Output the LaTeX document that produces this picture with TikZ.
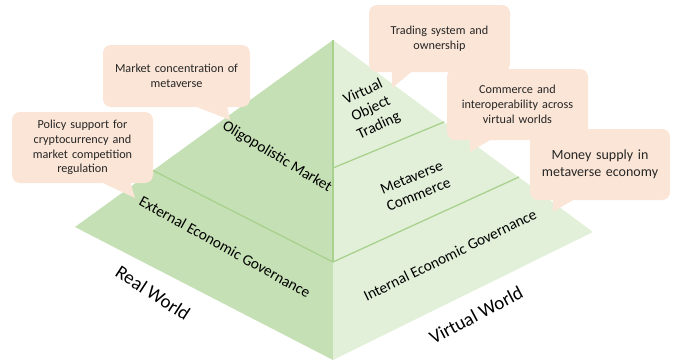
\documentclass[tikz,border=0pt]{standalone}
\usepackage{fontspec}
\setmainfont{Carlito}
\definecolor{leftface}{HTML}{C5E0B4}
\definecolor{rightface}{HTML}{E2F0D9}
\definecolor{divline}{HTML}{A9D18E}
\definecolor{peach}{HTML}{FBE5D6}
\definecolor{txt}{HTML}{262626}
\tikzset{
  calloutbox/.style={fill=peach, rounded corners=8pt, inner sep=0pt, align=center,
    text=txt, font=\fontsize{12.2}{14.7}\selectfont},
  pointer/.style={fill=peach},
  divider/.style={draw=divline, line width=1.3pt},
  layerlabel/.style={font=\fontsize{15.3}{18.5}\selectfont, text=black, align=center, inner sep=0pt},
  worldlabel/.style={font=\fontsize{19}{22}\selectfont, text=black, inner sep=0pt}
}
\begin{document}
\begin{tikzpicture}[x=1pt,y=-1pt]
\useasboundingbox (0,0) rectangle (673,364);
% pyramid corners
\coordinate (A) at (333,40);
\coordinate (L) at (75,227);
\coordinate (B) at (333,360);
\coordinate (R) at (593,232);
\coordinate (LD) at (153,170.5);
\coordinate (M2) at (333,262);
\coordinate (M1) at (333,168);
\coordinate (R1) at (444,122);
\coordinate (R2) at (519,177);
% faces
\fill[leftface] (A) -- (L) -- (B) -- cycle;
\fill[rightface] (A) -- (R) -- (B) -- cycle;
% dividers
\draw[divider] (A) -- (M2);
\draw[divider] (LD) -- (M2);
\draw[divider] (R1) -- (M1);
\draw[divider] (R2) -- (M2);
% layer labels
\node[layerlabel, rotate=-31] (olig) at (277,157) {Oligopolistic Market};
\node[layerlabel, rotate=-29] (ext) at (225,247) {External Economic Governance};
\node[layerlabel, rotate=26] (int) at (450,255) {Internal Economic Governance};
\node[layerlabel, rotate=25] (vot) at (371,109) {Virtual\\Object\\Trading};
\node[layerlabel, rotate=22] (mc) at (415,186) {Metaverse\\Commerce};
\node[worldlabel, rotate=-33] (real) at (153,293) {Real World};
\node[worldlabel, rotate=28] (virt) at (476,315) {Virtual World};
% callouts
\node[calloutbox, minimum width=147pt, minimum height=62pt, text width=142pt] (c1) at (176.5,76)
  {Market concentration of\\metaverse};
\coordinate (t1) at (230,120);
\fill[pointer] ([xshift=87pt,yshift=3pt]c1.south west) -- (t1) -- ([xshift=124pt,yshift=3pt]c1.south west) -- cycle;
\node[calloutbox, minimum width=141pt, minimum height=71pt, text width=136pt] (c2) at (82.5,147.5)
  {Policy support for\\cryptocurrency and\\market competition\\regulation};
\coordinate (t2) at (135,198);
\fill[pointer] ([xshift=85pt,yshift=3pt]c2.south west) -- (t2) -- ([xshift=118pt,yshift=3pt]c2.south west) -- cycle;
\node[calloutbox, minimum width=141pt, minimum height=67pt, text width=136pt] (c3) at (439.5,38.5)
  {Trading system and\\ownership};
\coordinate (t3) at (392,88);
\fill[pointer] ([xshift=23pt,yshift=3pt]c3.south west) -- (t3) -- ([xshift=46pt,yshift=3pt]c3.south west) -- cycle;
\node[calloutbox, minimum width=141pt, minimum height=71pt, text width=139pt] (c4) at (517.5,104.5)
  {Commerce and\\interoperability across\\virtual worlds};
\coordinate (t4) at (470,152);
\fill[pointer] ([xshift=23pt,yshift=3pt]c4.south west) -- (t4) -- ([xshift=48pt,yshift=3pt]c4.south west) -- cycle;
\node[calloutbox, minimum width=140pt, minimum height=71pt, text width=138pt,
  font=\fontsize{14}{17}\selectfont] (c5) at (600,164.5)
  {Money supply in\\metaverse economy};
\coordinate (t5) at (553,212);
\fill[pointer] ([xshift=23pt,yshift=3pt]c5.south west) -- (t5) -- ([xshift=48pt,yshift=3pt]c5.south west) -- cycle;
\end{tikzpicture}
\end{document}
